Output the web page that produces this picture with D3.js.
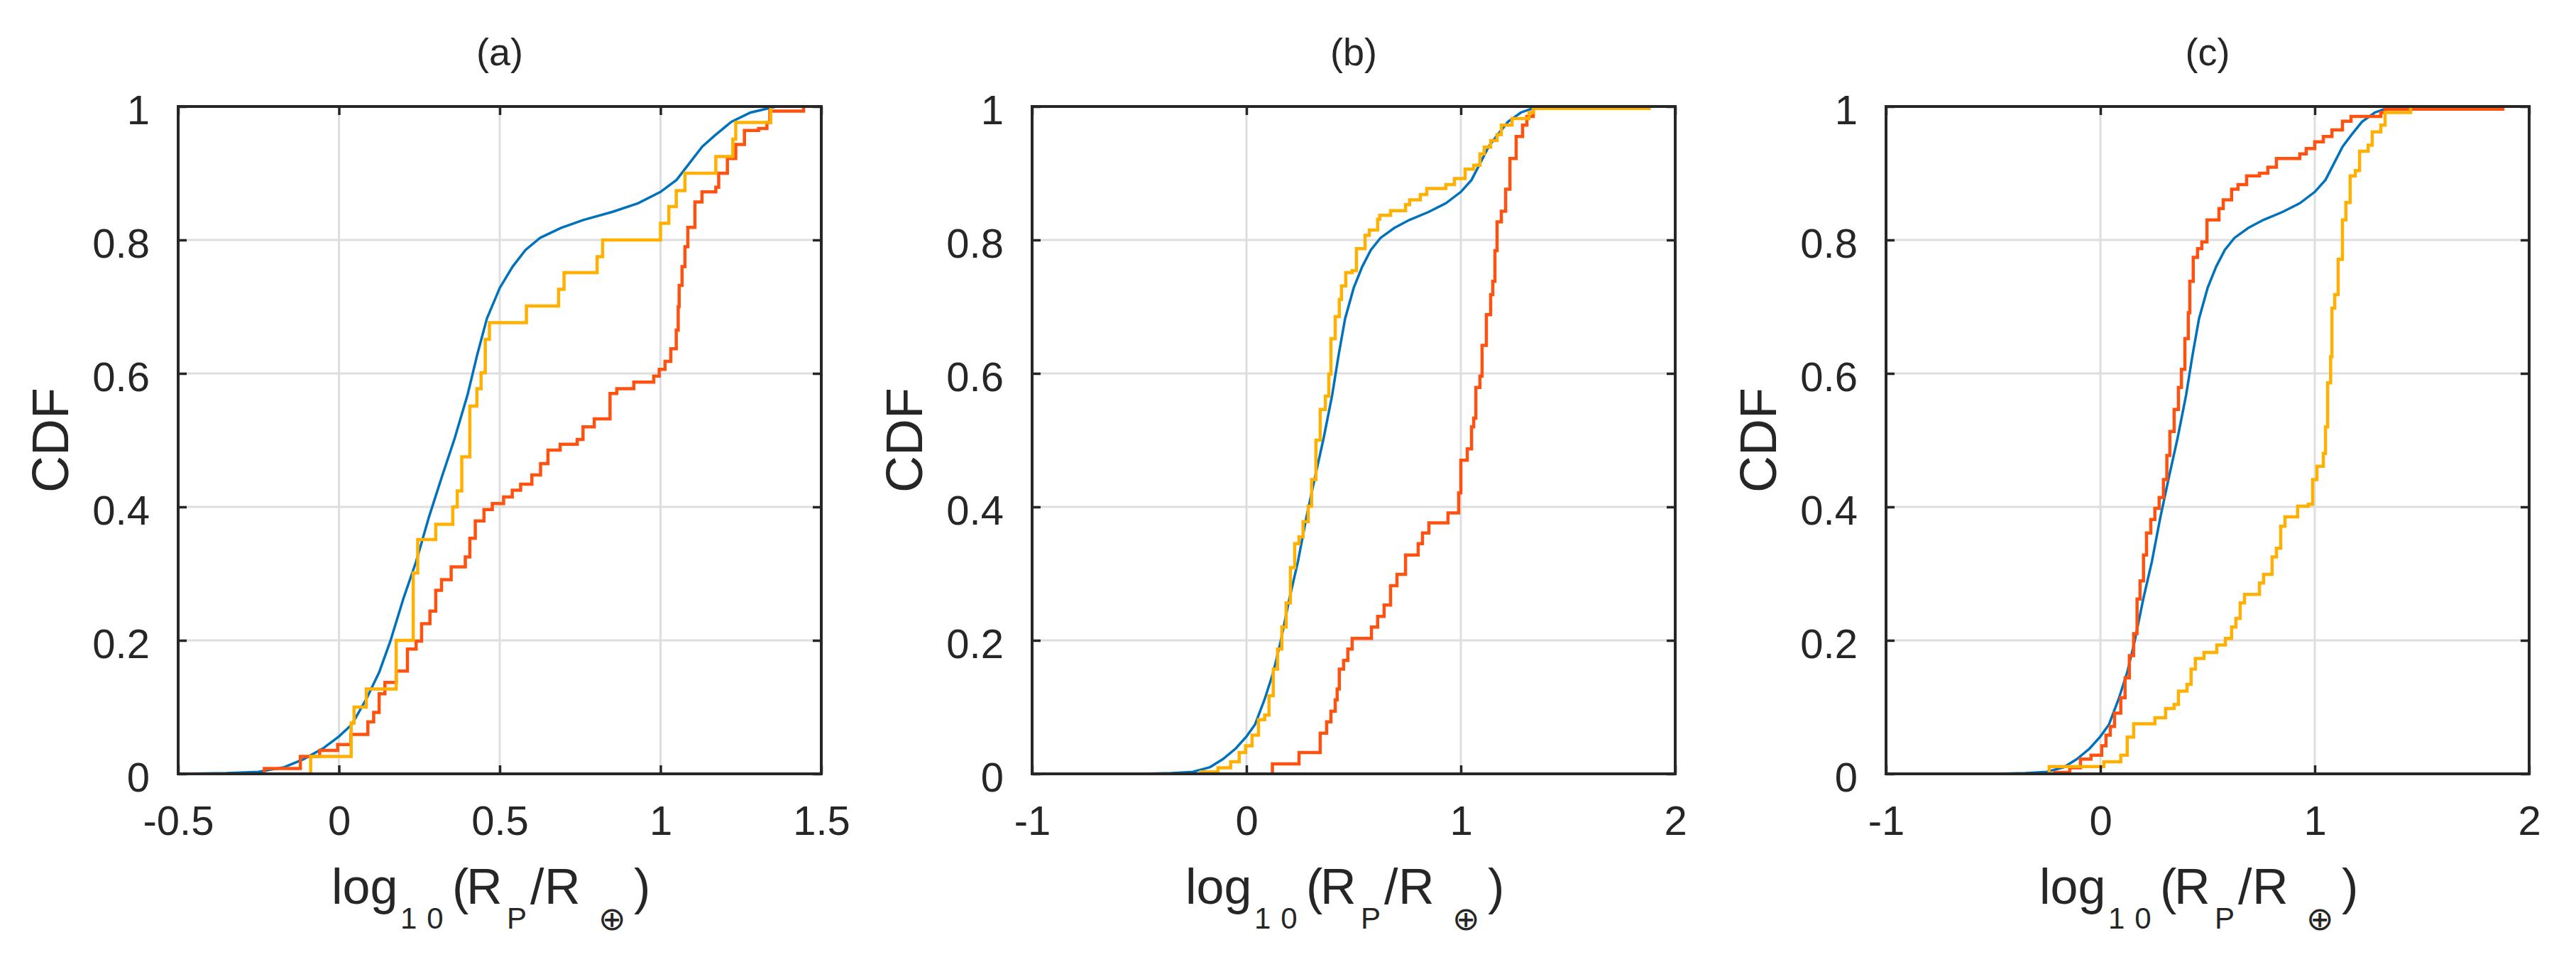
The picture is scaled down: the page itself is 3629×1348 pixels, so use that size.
<!DOCTYPE html>
<html lang="en">
<head>
<meta charset="utf-8" />
<title>CDF of log10(Rp/Re)</title>
<script src="https://cdn.jsdelivr.net/npm/d3@7/dist/d3.min.js"></script>
<style>
  body { margin: 0; background: #fff; }
  svg text { font-family: "Liberation Sans", Arial, sans-serif; fill: #262626; }
</style>
</head>
<body>
<script>
// ---- data ----
var panelTitles = ["(a)", "(b)", "(c)"];
var xDomainA = [-0.5, 1.5];
var xDomainBC = [-1, 2];
var xTicksA = [-0.5, 0, 0.5, 1, 1.5];
var xTicksBC = [-1, 0, 1, 2];
var yTicks = [0, 0.2, 0.4, 0.6, 0.8, 1];

// full sample (smooth curve), same in every panel: [x, cdf]
var allPlanets = [
	[-0.49, 0], [-0.35, 0.001], [-0.25, 0.003], [-0.17, 0.010], [-0.11, 0.022],
	[-0.05, 0.038], [0, 0.056], [0.04, 0.074], [0.085, 0.112], [0.125, 0.152],
	[0.16, 0.199], [0.2, 0.262], [0.24, 0.318], [0.28, 0.385], [0.32, 0.445],
	[0.36, 0.503], [0.40, 0.568], [0.43, 0.628], [0.46, 0.682], [0.50, 0.728],
	[0.54, 0.760], [0.58, 0.785], [0.625, 0.803], [0.69, 0.818], [0.76, 0.830],
	[0.85, 0.842], [0.93, 0.855], [1.0, 0.872], [1.05, 0.89], [1.09, 0.915],
	[1.13, 0.94], [1.17, 0.957], [1.22, 0.977], [1.28, 0.991], [1.36, 1.0]
];

// step curves: [x of jump, cdf after jump]
var redA = [
	[-0.232, 0], [-0.232, 0.008], [-0.12, 0.026], [-0.06, 0.035], [-0.004, 0.044],
	[0.037, 0.059], [0.09, 0.078], [0.108, 0.092], [0.125, 0.12], [0.143, 0.137],
	[0.178, 0.154], [0.213, 0.187], [0.240, 0.199], [0.257, 0.225], [0.283, 0.244],
	[0.301, 0.275], [0.319, 0.291], [0.349, 0.310], [0.393, 0.325], [0.407, 0.353],
	[0.424, 0.379], [0.451, 0.396], [0.477, 0.405], [0.512, 0.415], [0.539, 0.425],
	[0.565, 0.434], [0.600, 0.448], [0.627, 0.465], [0.650, 0.485], [0.688, 0.494],
	[0.741, 0.501], [0.759, 0.520], [0.794, 0.532], [0.843, 0.570], [0.864, 0.577],
	[0.917, 0.587], [0.979, 0.596], [0.996, 0.606], [1.014, 0.618], [1.032, 0.637],
	[1.049, 0.665], [1.055, 0.70], [1.058, 0.732], [1.067, 0.760], [1.076, 0.79],
	[1.085, 0.819], [1.107, 0.857], [1.129, 0.872], [1.172, 0.879], [1.181, 0.900],
	[1.208, 0.922], [1.234, 0.943], [1.261, 0.964], [1.305, 0.967], [1.331, 0.976],
	[1.340, 0.993], [1.445, 1.0]
];
var yellowA = [
	[-0.088, 0], [-0.088, 0.026], [0.038, 0.076], [0.047, 0.100], [0.085, 0.127],
	[0.178, 0.2], [0.231, 0.301], [0.245, 0.351], [0.301, 0.374], [0.354, 0.40],
	[0.368, 0.424], [0.382, 0.475], [0.407, 0.551], [0.429, 0.577], [0.442, 0.601],
	[0.455, 0.651], [0.468, 0.676], [0.583, 0.701], [0.683, 0.726], [0.700, 0.751],
	[0.803, 0.775], [0.820, 0.80], [1.0, 0.825], [1.026, 0.850], [1.049, 0.874],
	[1.076, 0.900], [1.172, 0.925], [1.225, 0.951], [1.234, 0.976], [1.343, 1.0]
];
var redB = [
	[0.121, 0], [0.121, 0.015], [0.245, 0.032], [0.344, 0.061], [0.374, 0.078],
	[0.394, 0.094], [0.414, 0.111], [0.423, 0.127], [0.433, 0.157], [0.453, 0.170],
	[0.473, 0.187], [0.493, 0.203], [0.583, 0.220], [0.612, 0.236], [0.642, 0.253],
	[0.672, 0.282], [0.702, 0.299], [0.742, 0.328], [0.801, 0.345], [0.821, 0.361],
	[0.851, 0.376], [0.940, 0.391], [0.990, 0.421], [1.0, 0.470], [1.030, 0.487],
	[1.050, 0.520], [1.060, 0.533], [1.070, 0.579], [1.089, 0.596], [1.099, 0.642],
	[1.119, 0.688], [1.139, 0.718], [1.149, 0.738], [1.159, 0.784], [1.169, 0.827],
	[1.189, 0.843], [1.209, 0.876], [1.229, 0.922], [1.258, 0.955], [1.288, 0.972],
	[1.308, 0.985], [1.338, 0.997], [1.885, 0.997]
];
var yellowB = [
	[-0.213, 0], [-0.213, 0.003], [-0.133, 0.009], [-0.074, 0.018], [-0.034, 0.032],
	[-0.004, 0.042], [0.026, 0.058], [0.056, 0.081], [0.085, 0.088], [0.105, 0.117],
	[0.125, 0.157], [0.145, 0.187], [0.165, 0.220], [0.185, 0.256], [0.205, 0.309],
	[0.225, 0.345], [0.245, 0.355], [0.264, 0.378], [0.288, 0.401], [0.304, 0.441],
	[0.324, 0.500], [0.344, 0.546], [0.368, 0.566], [0.384, 0.599], [0.394, 0.652],
	[0.414, 0.685], [0.433, 0.711], [0.443, 0.731], [0.463, 0.751], [0.493, 0.754],
	[0.513, 0.787], [0.553, 0.807], [0.573, 0.815], [0.612, 0.831], [0.622, 0.837],
	[0.672, 0.844], [0.742, 0.853], [0.761, 0.860], [0.811, 0.868], [0.841, 0.877],
	[0.930, 0.883], [0.970, 0.892], [1.020, 0.906], [1.060, 0.912], [1.089, 0.929],
	[1.109, 0.939], [1.139, 0.949], [1.169, 0.958], [1.189, 0.972], [1.239, 0.982],
	[1.318, 0.991], [1.338, 0.997], [1.885, 0.997]
];
var redC = [
	[-0.213, 0], [-0.213, 0.002], [-0.143, 0.009], [-0.093, 0.022], [-0.044, 0.028],
	[0.006, 0.042], [0.026, 0.058], [0.046, 0.071], [0.066, 0.091], [0.095, 0.114],
	[0.115, 0.144], [0.135, 0.177], [0.155, 0.210], [0.171, 0.262], [0.185, 0.289],
	[0.201, 0.328], [0.215, 0.361], [0.235, 0.381], [0.254, 0.398], [0.274, 0.414],
	[0.294, 0.441], [0.310, 0.477], [0.324, 0.513], [0.344, 0.546], [0.364, 0.579],
	[0.378, 0.606], [0.394, 0.652], [0.410, 0.691], [0.417, 0.738], [0.433, 0.774],
	[0.453, 0.787], [0.473, 0.797], [0.497, 0.830], [0.553, 0.847], [0.573, 0.860],
	[0.612, 0.876], [0.642, 0.883], [0.682, 0.896], [0.742, 0.900], [0.781, 0.909],
	[0.821, 0.922], [0.930, 0.929], [0.960, 0.937], [1.0, 0.947], [1.040, 0.955],
	[1.080, 0.965], [1.129, 0.978], [1.169, 0.985], [1.308, 0.991], [1.328, 0.996],
	[1.885, 0.996]
];
var yellowC = [
	[-0.239, 0], [-0.239, 0.011], [0.016, 0.018], [0.095, 0.028], [0.125, 0.055],
	[0.155, 0.075], [0.254, 0.084], [0.304, 0.098], [0.344, 0.104], [0.364, 0.124],
	[0.404, 0.134], [0.423, 0.157], [0.443, 0.173], [0.483, 0.182], [0.543, 0.193],
	[0.583, 0.203], [0.612, 0.220], [0.632, 0.233], [0.652, 0.256], [0.672, 0.269],
	[0.742, 0.286], [0.761, 0.299], [0.801, 0.325], [0.821, 0.338], [0.841, 0.371],
	[0.861, 0.385], [0.920, 0.401], [0.970, 0.404], [0.990, 0.441], [1.010, 0.461],
	[1.040, 0.480], [1.050, 0.520], [1.060, 0.586], [1.074, 0.625], [1.080, 0.698],
	[1.093, 0.718], [1.109, 0.771], [1.129, 0.830], [1.145, 0.856], [1.165, 0.896],
	[1.189, 0.904], [1.209, 0.933], [1.249, 0.942], [1.268, 0.962], [1.308, 0.972],
	[1.328, 0.991], [1.447, 1.0]
];

var panels = [
	{ title: panelTitles[0], xDomain: xDomainA, xTicks: xTicksA, red: redA, yellow: yellowA },
	{ title: panelTitles[1], xDomain: xDomainBC, xTicks: xTicksBC, red: redB, yellow: yellowB },
	{ title: panelTitles[2], xDomain: xDomainBC, xTicks: xTicksBC, red: redC, yellow: yellowC }
];

// ---- layout ----
var w = 3629;
var h = 1348;
var plotTop = 150;
var plotBottom = 1090;
var plotWidth = 906;
var lefts = [251, 1454, 2657];
var axisColor = "#262626";
var gridColor = "#dedede";
var tickLen = 12;

var svg = d3.select("body")
	.append("svg")
	.attr("width", w)
	.attr("height", h);

var yScale = d3.scaleLinear().domain([0, 1]).range([plotBottom, plotTop]);
var fmt = function(d) { return String(d); };

panels.forEach(function(p, i) {
	var left = lefts[i];
	var right = left + plotWidth;
	var xScale = d3.scaleLinear().domain(p.xDomain).range([left, right]);
	var g = svg.append("g");

	// clip for the curves
	g.append("clipPath")
		.attr("id", "clip" + i)
		.append("rect")
		.attr("x", left)
		.attr("y", plotTop - 4)
		.attr("width", plotWidth)
		.attr("height", plotBottom - plotTop + 4);

	// grid
	g.append("g").selectAll("line")
		.data(p.xTicks.slice(1, -1))
		.enter().append("line")
		.attr("x1", function(d) { return xScale(d); })
		.attr("x2", function(d) { return xScale(d); })
		.attr("y1", plotTop)
		.attr("y2", plotBottom)
		.attr("stroke", gridColor)
		.attr("stroke-width", 3);
	g.append("g").selectAll("line")
		.data(yTicks.slice(1, -1))
		.enter().append("line")
		.attr("x1", left)
		.attr("x2", right)
		.attr("y1", function(d) { return yScale(d); })
		.attr("y2", function(d) { return yScale(d); })
		.attr("stroke", gridColor)
		.attr("stroke-width", 3);

	// curves
	var smooth = d3.line()
		.x(function(d) { return xScale(d[0]); })
		.y(function(d) { return yScale(d[1]); });
	var step = d3.line()
		.x(function(d) { return xScale(d[0]); })
		.y(function(d) { return yScale(d[1]); })
		.curve(d3.curveStepAfter);

	var curves = g.append("g").attr("clip-path", "url(#clip" + i + ")");
	curves.append("path")
		.attr("d", smooth(allPlanets))
		.attr("fill", "none")
		.attr("stroke", "#0072BD")
		.attr("stroke-width", 3.5);
	curves.append("path")
		.attr("d", step(p.red))
		.attr("fill", "none")
		.attr("stroke", "#FF5210")
		.attr("stroke-width", 4.5);
	curves.append("path")
		.attr("d", step(p.yellow))
		.attr("fill", "none")
		.attr("stroke", "#FFB000")
		.attr("stroke-width", 4.5);

	// axes, ticks pointing inward on all four sides
	var xAxis = d3.axisBottom(xScale).tickValues(p.xTicks).tickFormat(fmt)
		.tickSizeInner(-tickLen).tickSizeOuter(0).tickPadding(45);
	var yAxis = d3.axisLeft(yScale).tickValues(yTicks).tickFormat(fmt)
		.tickSizeInner(-tickLen).tickSizeOuter(0).tickPadding(40);
	var xTop = d3.axisTop(xScale).tickValues(p.xTicks).tickFormat("")
		.tickSizeInner(-tickLen).tickSizeOuter(0);
	var yRight = d3.axisRight(yScale).tickValues(yTicks).tickFormat("")
		.tickSizeInner(-tickLen).tickSizeOuter(0);

	var axes = [
		g.append("g").attr("transform", "translate(0," + plotBottom + ")").call(xAxis),
		g.append("g").attr("transform", "translate(" + left + ",0)").call(yAxis),
		g.append("g").attr("transform", "translate(0," + plotTop + ")").call(xTop),
		g.append("g").attr("transform", "translate(" + right + ",0)").call(yRight)
	];
	axes.forEach(function(a) {
		a.select(".domain").remove();
		a.selectAll(".tick line").attr("stroke", axisColor).attr("stroke-width", 3.5);
		a.selectAll(".tick text")
			.attr("fill", axisColor)
			.style("font-size", "58px")
			.style("font-family", "'Liberation Sans', Arial, sans-serif");
	});
	axes[1].selectAll(".tick text").attr("dy", "0.43em");

	// box
	g.append("rect")
		.attr("x", left)
		.attr("y", plotTop)
		.attr("width", plotWidth)
		.attr("height", plotBottom - plotTop)
		.attr("fill", "none")
		.attr("stroke", axisColor)
		.attr("stroke-width", 4);

	// title
	g.append("text")
		.attr("x", (left + right) / 2)
		.attr("y", plotTop - 58)
		.attr("text-anchor", "middle")
		.style("font-size", "54px")
		.text(p.title);

	// y label
	g.append("text")
		.attr("transform", "translate(" + (left - 155) + "," + ((plotTop + plotBottom) / 2) + ") rotate(-90)")
		.attr("text-anchor", "middle")
		.style("font-size", "72px")
		.text("CDF");

	// x label: log10(RP/R⊕)
	var x0 = left + 216;
	var yMain = plotBottom + 183;
	var ySub = plotBottom + 218;
	var lab = g.append("text").style("font-size", "70px");
	lab.append("tspan").attr("x", x0).attr("y", yMain).text("log");
	lab.append("tspan").attr("x", x0 + 97).attr("y", ySub)
		.style("font-size", "42px").style("letter-spacing", "14px").text("10");
	lab.append("tspan").attr("x", x0 + 170).attr("y", yMain).text("(");
	lab.append("tspan").attr("x", x0 + 190).attr("y", yMain).text("R");
	lab.append("tspan").attr("x", x0 + 247).attr("y", ySub).style("font-size", "42px").text("P");
	lab.append("tspan").attr("x", x0 + 280).attr("y", yMain).text("/");
	lab.append("tspan").attr("x", x0 + 300).attr("y", yMain).text("R");
	lab.append("tspan").attr("x", x0 + 376).attr("y", plotBottom + 220)
		.style("font-size", "46px").style("font-family", "'DejaVu Sans', sans-serif").text("\u2295");
	lab.append("tspan").attr("x", x0 + 426).attr("y", yMain).text(")");
});
</script>
</body>
</html>
